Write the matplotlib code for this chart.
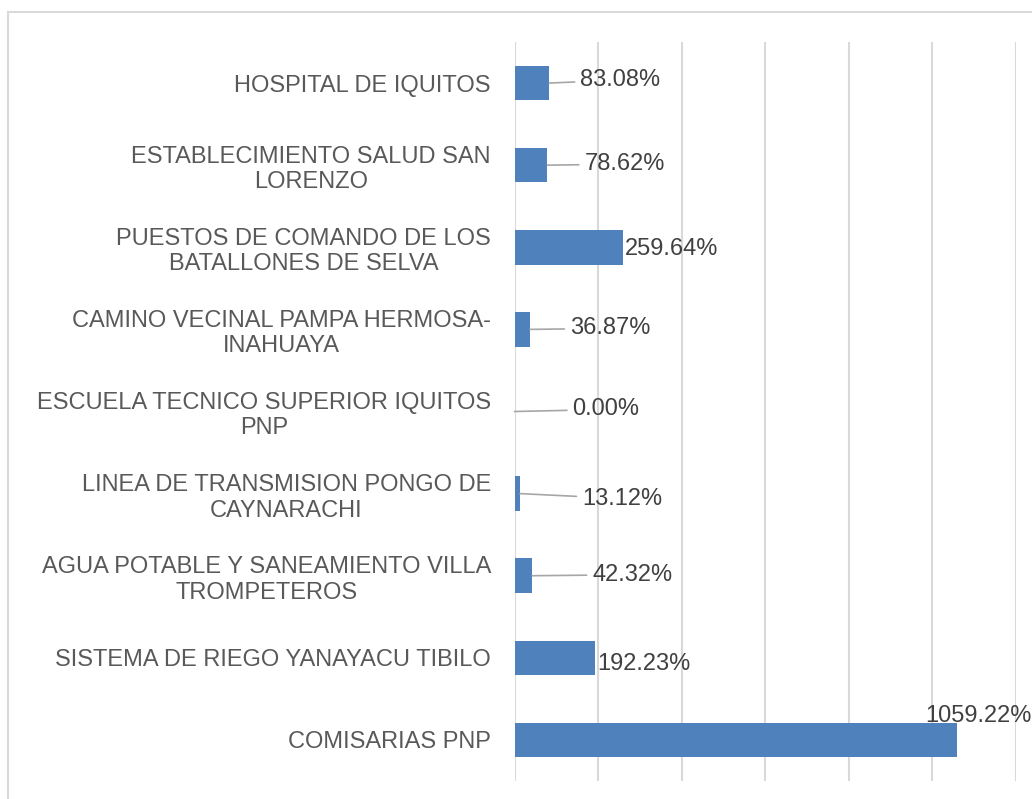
import matplotlib.pyplot as plt
from matplotlib.patches import Rectangle

plt.rcParams['font.family'] = ['Liberation Sans', 'DejaVu Sans']

# Data
categorias = ['HOSPITAL DE IQUITOS',
              'ESTABLECIMIENTO SALUD SAN\nLORENZO',
              'PUESTOS DE COMANDO DE LOS\nBATALLONES DE SELVA',
              'CAMINO VECINAL PAMPA HERMOSA-\nINAHUAYA',
              'ESCUELA TECNICO SUPERIOR IQUITOS\nPNP',
              'LINEA DE TRANSMISION PONGO DE\nCAYNARACHI',
              'AGUA POTABLE Y SANEAMIENTO VILLA\nTROMPETEROS',
              'SISTEMA DE RIEGO YANAYACU TIBILO',
              'COMISARIAS PNP']
porcentajes = [83.08, 78.62, 259.64, 36.87, 0.00, 13.12, 42.32, 192.23, 1059.22]

# label offsets in pixels (dx right, dy up) from bar end, and leader line flag
offs = [(31, 3), (37, 1), (2, -2), (40, 1), (58, 2), (62, -5), (60, 1), (2, -6), (-32, 24)]
leader = [True, True, False, True, True, True, True, False, False]

fig = plt.figure(figsize=(10.32, 7.99), dpi=100)
ax = fig.add_axes([514.5 / 1032, 1 - 781 / 799, (1016 - 514.5) / 1032, (781 - 42) / 799])

# outer border of the chart area
fig.patches.append(Rectangle((8 / 1032, -0.05), 1.1, 1 - 12 / 799 + 0.05,
                             transform=fig.transFigure, fill=False,
                             edgecolor='#d9d9d9', linewidth=1.5))

y = list(range(len(categorias)))
ax.barh(y, porcentajes, height=0.42, color='#4f81bd', zorder=3)

ax.set_xlim(0, 1200)
ax.set_ylim(len(categorias) - 0.5, -0.5)
ax.set_xticks(range(0, 1201, 200))
ax.set_xticklabels([])
ax.tick_params(axis='x', length=0)
ax.tick_params(axis='y', length=0, pad=17)
ax.set_yticks(y)
ax.set_yticklabels(categorias, fontsize=17, color='#595959', multialignment='center')
ax.grid(axis='x', color='#d9d9d9', linewidth=1.5, zorder=0)
for s in ax.spines.values():
    s.set_visible(False)

for i, v in enumerate(porcentajes):
    dx, dy = offs[i]
    ax.annotate(f'{v:.2f}%', xy=(v, i), xytext=(dx * 0.72, dy * 0.72),
                textcoords='offset points', ha='left', va='center',
                fontsize=17, color='#404040', annotation_clip=False,
                arrowprops=dict(arrowstyle='-', color='#a6a6a6', lw=1.2,
                                shrinkA=2, shrinkB=0) if leader[i] else None)

plt.savefig('out.png', dpi=100)
